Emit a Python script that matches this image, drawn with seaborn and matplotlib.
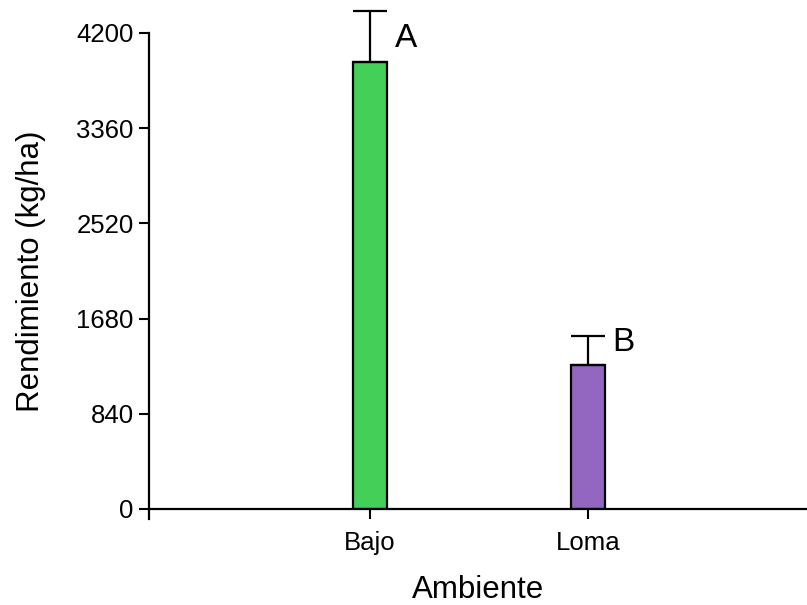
import pandas as pd
import seaborn as sns
import matplotlib.pyplot as plt

# --- datos ---
ambientes = ["Bajo", "Loma"]
rendimiento = [3945, 1270]
error_sup = [450, 257]
letras = ["A", "B"]
letras_y = [4150, 1470]
colores = ["#44CF58", "#9366BF"]
yticks = [0, 840, 1680, 2520, 3360, 4200]

df = pd.DataFrame({"Ambiente": ambientes, "Rendimiento": rendimiento})

sns.set_style("ticks")
plt.rcParams["font.family"] = ["Liberation Sans", "DejaVu Sans"]
plt.rcParams["text.color"] = "black"
plt.rcParams["axes.labelcolor"] = "black"
plt.rcParams["xtick.color"] = "black"
plt.rcParams["ytick.color"] = "black"

fig = plt.figure(figsize=(8.07, 6.05), dpi=100)
ax = fig.add_axes([0.1846, 0.1587, 0.8144, 0.7868])

sns.barplot(data=df, x="Ambiente", y="Rendimiento", hue="Ambiente",
            palette=colores, legend=False, width=0.156, saturation=1,
            edgecolor="black", linewidth=1.6, errorbar=None, ax=ax)

# barras de error solo hacia arriba
for i, (m, e) in enumerate(zip(rendimiento, error_sup)):
    ax.errorbar(i, m, yerr=[[0], [e]], fmt="none", ecolor="black",
                elinewidth=1.6, capsize=12.2, capthick=1.6, clip_on=False,
                zorder=1)
    ax.text(i + 0.112, letras_y[i], letras[i], fontsize=24,
            ha="left", va="center")

ax.set_xlim(-1.014, 2.0)
ax.set_ylim(0, 4200)
ax.set_yticks(yticks)
ax.set_yticklabels([str(t) for t in yticks])

ax.set_xlabel("Ambiente", fontsize=22.5, labelpad=14)
ax.set_ylabel("Rendimiento (kg/ha)", fontsize=22.5, labelpad=22)
ax.tick_params(axis="both", labelsize=18.5, length=7, width=1.5,
               direction="out", pad=4)
ax.tick_params(axis="x", pad=9)

for s in ["top", "right"]:
    ax.spines[s].set_visible(False)
for s in ["left", "bottom"]:
    ax.spines[s].set_linewidth(1.6)
    ax.spines[s].set_color("black")
ax.spines["left"].set_bounds(-88, 4200)

fig.savefig("out.png", dpi=100)
